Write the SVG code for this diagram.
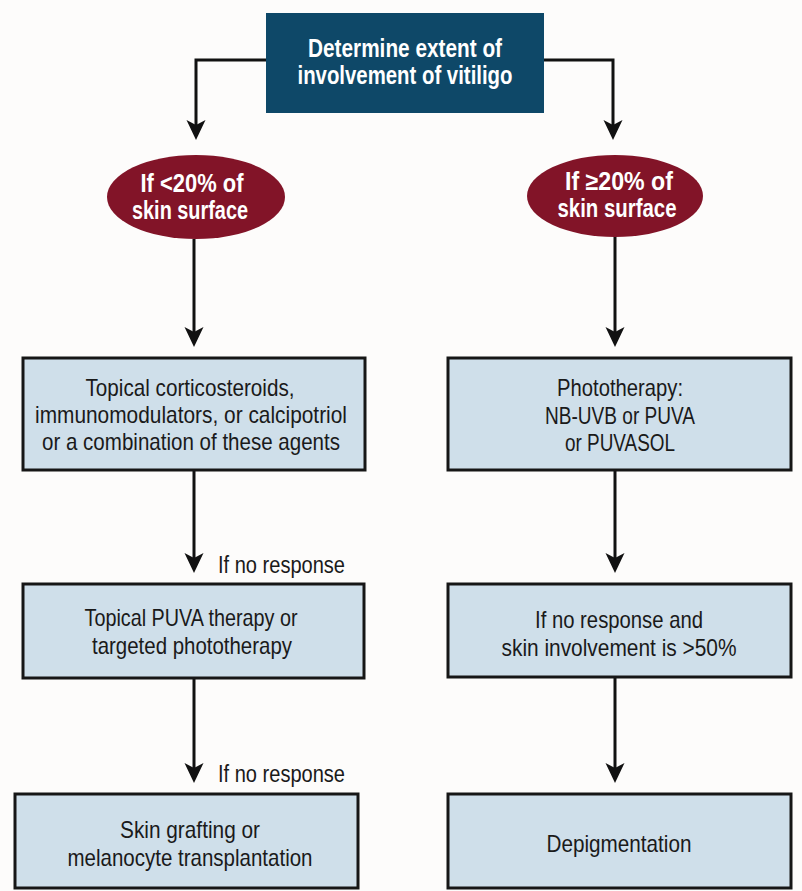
<svg xmlns="http://www.w3.org/2000/svg" width="802" height="891" viewBox="0 0 802 891">
<defs>
<marker id="ah" markerUnits="userSpaceOnUse" markerWidth="30" markerHeight="30" viewBox="-15 -15 30 30" refX="0" refY="0" orient="auto">
<path d="M9,0 L-11,-9.5 L-6,0 L-11,9.5 Z" fill="#111"/>
</marker>
<style>
.bg{fill:#fdfcfb}
.box{fill:#cfdfea;stroke:#161616;stroke-width:3}
.hdr{fill:#0e4868}
.ell{fill:#821428}
.t{font-family:"Liberation Sans Narrow","Liberation Sans",Arial,sans-serif;font-size:24px;fill:#1a1a1a;text-anchor:middle}
.lb{font-family:"Liberation Sans Narrow","Liberation Sans",Arial,sans-serif;font-size:23px;fill:#1a1a1a}
.w{font-family:"Liberation Sans Narrow","Liberation Sans",Arial,sans-serif;font-size:25px;font-weight:bold;fill:#ffffff;text-anchor:middle}
.c{fill:none;stroke:#111;stroke-width:3}
</style>
</defs>
<rect class="bg" x="0" y="0" width="802" height="891"/>

<g id="connectors">
<path class="c" d="M266,60 H196 V131" marker-end="url(#ah)"/>
<path class="c" d="M544,60 H613 V131" marker-end="url(#ah)"/>
<path class="c" d="M194,239 V338" marker-end="url(#ah)"/>
<path class="c" d="M615,236 V338" marker-end="url(#ah)"/>
<path class="c" d="M194,470 V564" marker-end="url(#ah)"/>
<path class="c" d="M615,470 V564" marker-end="url(#ah)"/>
<path class="c" d="M194,678 V774" marker-end="url(#ah)"/>
<path class="c" d="M615,677 V774" marker-end="url(#ah)"/>
<text class="lb" x="218" y="573" textLength="127" lengthAdjust="spacingAndGlyphs">If no response</text>
<text class="lb" x="218" y="782" textLength="127" lengthAdjust="spacingAndGlyphs">If no response</text>
</g>

<g id="start">
<rect class="hdr" x="266" y="13" width="278" height="100"/>
<text class="w" x="405" y="57" textLength="194" lengthAdjust="spacingAndGlyphs">Determine extent of</text>
<text class="w" x="405" y="84" textLength="215" lengthAdjust="spacingAndGlyphs">involvement of vitiligo</text>
</g>

<g id="lt20">
<ellipse class="ell" cx="196" cy="197" rx="89" ry="42"/>
<text class="w" x="192" y="192" textLength="103" lengthAdjust="spacingAndGlyphs">If &lt;20% of</text>
<text class="w" x="190" y="219" textLength="116" lengthAdjust="spacingAndGlyphs">skin surface</text>
</g>

<g id="ge20">
<ellipse class="ell" cx="615" cy="196" rx="88" ry="41"/>
<text class="w" x="619" y="190" textLength="108" lengthAdjust="spacingAndGlyphs">If ≥20% of</text>
<text class="w" x="617" y="217" textLength="119" lengthAdjust="spacingAndGlyphs">skin surface</text>
</g>

<g id="topical">
<rect class="box" x="23" y="358" width="342" height="112"/>
<text class="t" x="190" y="396" textLength="209" lengthAdjust="spacingAndGlyphs">Topical corticosteroids,</text>
<text class="t" x="191" y="423" textLength="312" lengthAdjust="spacingAndGlyphs">immunomodulators, or calcipotriol</text>
<text class="t" x="191" y="450" textLength="298" lengthAdjust="spacingAndGlyphs">or a combination of these agents</text>
</g>

<g id="photo">
<rect class="box" x="448" y="358" width="343" height="112"/>
<text class="t" x="620" y="396" textLength="126" lengthAdjust="spacingAndGlyphs">Phototherapy:</text>
<text class="t" x="620" y="424" textLength="150" lengthAdjust="spacingAndGlyphs">NB-UVB or PUVA</text>
<text class="t" x="620" y="451" textLength="110" lengthAdjust="spacingAndGlyphs">or PUVASOL</text>
</g>

<g id="topicalpuva">
<rect class="box" x="23" y="584" width="341" height="94"/>
<text class="t" x="191" y="626" textLength="213" lengthAdjust="spacingAndGlyphs">Topical PUVA therapy or</text>
<text class="t" x="192" y="654" textLength="200" lengthAdjust="spacingAndGlyphs">targeted phototherapy</text>
</g>

<g id="noresp">
<rect class="box" x="448" y="584" width="343" height="93"/>
<text class="t" x="619" y="628" textLength="168" lengthAdjust="spacingAndGlyphs">If no response and</text>
<text class="t" x="619" y="656" textLength="235" lengthAdjust="spacingAndGlyphs">skin involvement is &gt;50%</text>
</g>

<g id="grafting">
<rect class="box" x="15" y="794" width="343" height="94"/>
<text class="t" x="190" y="838" textLength="140" lengthAdjust="spacingAndGlyphs">Skin grafting or</text>
<text class="t" x="190" y="866" textLength="245" lengthAdjust="spacingAndGlyphs">melanocyte transplantation</text>
</g>

<g id="depig">
<rect class="box" x="448" y="794" width="343" height="94"/>
<text class="t" x="619" y="852" textLength="145" lengthAdjust="spacingAndGlyphs">Depigmentation</text>
</g>
</svg>
